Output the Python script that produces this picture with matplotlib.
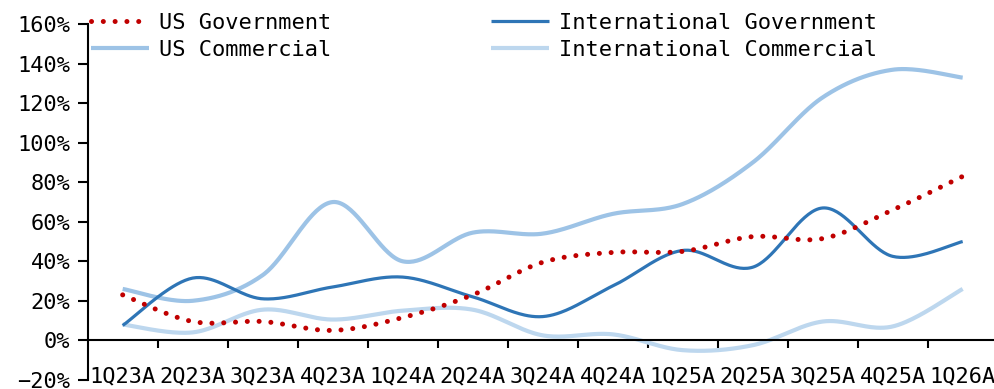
import numpy as np
import matplotlib
matplotlib.use("Agg")
import matplotlib.pyplot as plt

quarters = ["1Q23A", "2Q23A", "3Q23A", "4Q23A", "1Q24A", "2Q24A", "3Q24A",
            "4Q24A", "1Q25A", "2Q25A", "3Q25A", "4Q25A", "1Q26A"]

us_government = [23, 9.5, 9.5, 5, 11.5, 23, 39.5, 44.5, 45, 52.5, 51.5, 66, 83]
us_commercial = [26, 20, 33, 70, 40, 54.5, 54, 64, 69, 90, 123, 137, 133]
intl_government = [7.5, 31.5, 21, 27, 32, 22, 12, 27.5, 45.5, 37, 67, 42.5, 50]
intl_commercial = [8, 4, 15.5, 10.5, 15, 15.5, 2.5, 3, -5, -2.5, 9.5, 7, 26]

y_ticks = list(range(-20, 161, 20))

plt.rcParams["font.family"] = ["DejaVu Sans Mono", "DejaVu Sans"]
plt.rcParams["font.size"] = 15.8


def smooth(values, steps=40):
    """Bezier smoothing through every point (Catmull-Rom style control points)."""
    p = np.column_stack([np.arange(len(values), dtype=float), np.asarray(values, float)])
    n = len(p)
    out = []
    t = np.linspace(0, 1, steps)[:, None]
    for i in range(n - 1):
        p0 = p[i - 1] if i > 0 else p[i]
        p3 = p[i + 2] if i + 2 < n else p[i + 1]
        c1 = p[i] + (p[i + 1] - p0) / 6
        c2 = p[i + 1] - (p3 - p[i]) / 6
        seg = ((1 - t) ** 3) * p[i] + 3 * ((1 - t) ** 2) * t * c1 \
            + 3 * (1 - t) * t ** 2 * c2 + t ** 3 * p[i + 1]
        out.append(seg if i == 0 else seg[1:])
    s = np.vstack(out)
    return s[:, 0], s[:, 1]


fig = plt.figure(figsize=(9.94, 3.89), dpi=100)
ax = fig.add_axes([0.0882, 0.0237, 0.9155, 0.9138])

x, y = smooth(intl_commercial)
l_ic, = ax.plot(x, y, color="#BDD7EE", lw=3.0, solid_capstyle="butt",
                label="International Commercial", zorder=2)
x, y = smooth(us_commercial)
l_uc, = ax.plot(x, y, color="#9DC3E6", lw=3.0, solid_capstyle="butt",
                label="US Commercial", zorder=3)
x, y = smooth(intl_government)
l_ig, = ax.plot(x, y, color="#2E75B6", lw=2.3, solid_capstyle="butt",
                label="International Government", zorder=4)
x, y = smooth(us_government)
l_ug, = ax.plot(x, y, color="#C00000", lw=3.6, dashes=(0.01, 2.35),
                dash_capstyle="round", label="US Government", zorder=5)

ax.set_xlim(-0.5, 12.5)
ax.set_ylim(-20, 160)

ax.spines["top"].set_visible(False)
ax.spines["right"].set_visible(False)
ax.spines["bottom"].set_position(("data", 0))
for s in ("left", "bottom"):
    ax.spines[s].set_linewidth(1.5)

ax.set_yticks(y_ticks)
ax.set_yticklabels([f"{v}%".replace("-", "\u2212") for v in y_ticks])
ax.tick_params(axis="y", direction="out", length=7, width=1.5, pad=5.5)

ax.set_xticks(np.arange(0.5, 12, 1.0))
ax.set_xticklabels([])
ax.set_xticks(np.arange(len(quarters)), minor=True)
ax.set_xticklabels(quarters, minor=True)
ax.tick_params(axis="x", which="major", direction="out", length=6, width=1.5)
ax.tick_params(axis="x", which="minor", length=0, pad=19)

leg = ax.legend(handles=[l_ug, l_uc, l_ig, l_ic], ncol=2, loc="upper left",
                bbox_to_anchor=(0.0033, 1.033), frameon=False,
                handlelength=2.65, handletextpad=0.45, columnspacing=7.3,
                labelspacing=0.34, borderaxespad=0, borderpad=0)

fig.savefig("out.png", dpi=100)
